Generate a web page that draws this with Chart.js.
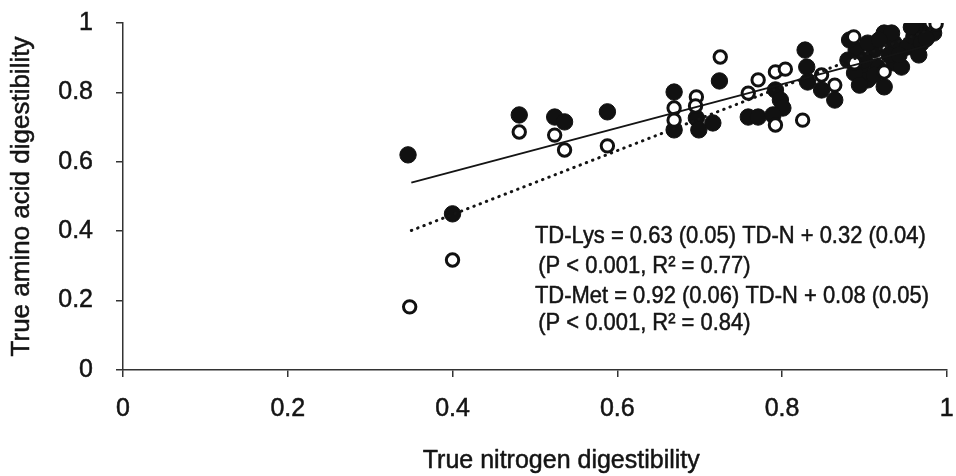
<!DOCTYPE html>
<html><head><meta charset="utf-8">
<script src="https://cdn.jsdelivr.net/npm/chart.js@4.4.1/dist/chart.umd.min.js"></script>
<style>html,body{margin:0;padding:0;background:#fff}#wrap{width:956px;height:476px;position:relative}</style>
</head><body><div id="wrap"><canvas id="c"></canvas></div>
<script>
// ---- data ----
const xTitle = 'True nitrogen digestibility';
const yTitle = 'True amino acid digestibility';
const xTickLabels = ['0', '0.2', '0.4', '0.6', '0.8', '1'];
const yTickLabels = ['0', '0.2', '0.4', '0.6', '0.8', '1'];

// True Lys digestibility (filled circles)
const lysX = [0.346, 0.400, 0.481, 0.524, 0.536, 0.588, 0.669, 0.669, 0.696, 0.699, 0.716, 0.724,
  0.759, 0.771, 0.792, 0.798, 0.801, 0.789, 0.828, 0.830, 0.831, 0.848, 0.864, 0.890, 0.896,
  0.904, 0.924, 0.924, 0.936, 0.912, 0.936, 0.945, 0.952, 0.960, 0.972, 0.981, 0.969, 0.904,
  0.888, 0.916, 0.933, 0.957, 0.984, 0.880, 0.930, 0.966, 0.912, 0.900, 0.918, 0.942, 0.894,
  0.882, 0.975];
const lysY = [0.620, 0.450, 0.735, 0.729, 0.715, 0.744, 0.801, 0.692, 0.726, 0.692, 0.712, 0.833,
  0.729, 0.729, 0.807, 0.778, 0.755, 0.735, 0.922, 0.873, 0.830, 0.807, 0.778, 0.922, 0.873,
  0.836, 0.816, 0.971, 0.942, 0.922, 0.885, 0.873, 0.931, 0.960, 0.980, 0.988, 0.942, 0.942,
  0.856, 0.873, 0.971, 0.988, 0.971, 0.893, 0.908, 0.908, 0.850, 0.893, 0.951, 0.908, 0.821,
  0.951, 0.955];

// True Met digestibility (open circles)
const metX = [0.348, 0.400, 0.481, 0.524, 0.536, 0.588, 0.669, 0.669, 0.696, 0.695, 0.725, 0.759,
  0.771, 0.792, 0.804, 0.792, 0.825, 0.848, 0.864, 0.887, 0.888, 0.924, 0.981, 0.987];
const metY = [0.182, 0.317, 0.686, 0.677, 0.634, 0.646, 0.755, 0.720, 0.787, 0.761, 0.902, 0.798,
  0.836, 0.859, 0.867, 0.706, 0.720, 0.850, 0.821, 0.960, 0.885, 0.859, 1.000, 0.997];

// regression lines (end points)
const lysLineX = [0.35, 0.98];
const lysLineY = [0.540, 0.937];
const metLineX = [0.35, 0.98];
const metLineY = [0.402, 0.982];

const equationLines = [
  'TD-Lys = 0.63 (0.05) TD-N + 0.32 (0.04)',
  '(P < 0.001, R\u00B2 = 0.77)',
  'TD-Met = 0.92 (0.06) TD-N + 0.08 (0.05)',
  '(P < 0.001, R\u00B2 = 0.84)'
];

// ---- chart ----
const FONT = '"Liberation Sans", Arial, Helvetica, sans-serif';
const INK = '#141414';
const toPts = (xs, ys) => xs.map((x, i) => ({ x: x, y: ys[i] }));

function inkText(ctx, t, x, y) {
  ctx.fillText(t, x, y);
  ctx.strokeText(t, x, y);
}

const textPlugin = {
  id: 'texts',
  afterDraw(chart) {
    const { ctx, scales, chartArea } = chart;
    ctx.save();
    ctx.fillStyle = INK;
    ctx.strokeStyle = INK;
    ctx.lineWidth = 0.5;
    ctx.lineJoin = 'round';

    // regression equations
    const anchorX = [0.5, 0.504, 0.5, 0.504];
    const anchorY = [0.366, 0.280, 0.193, 0.115];
    ctx.font = '24px ' + FONT;
    ctx.textBaseline = 'alphabetic';
    ctx.textAlign = 'left';
    equationLines.forEach((t, i) => {
      const px = scales.x.getPixelForValue(anchorX[i]);
      const py = scales.y.getPixelForValue(anchorY[i]);
      ctx.save();
      ctx.translate(px, py);
      ctx.scale(0.915, 1);
      inkText(ctx, t, 0, 0);
      ctx.restore();
    });

    // axis titles
    ctx.font = '25px ' + FONT;
    ctx.textAlign = 'center';
    ctx.textBaseline = 'middle';
    inkText(ctx, xTitle, scales.x.getPixelForValue(0.532), chart.height - 15);

    ctx.font = '26px ' + FONT;
    ctx.save();
    ctx.translate(22, (chartArea.top + chartArea.bottom) / 2);
    ctx.rotate(-Math.PI / 2);
    inkText(ctx, yTitle, 0, 0);
    ctx.restore();

    ctx.restore();
  }
};

const axisCommon = {
  type: 'linear', min: 0, max: 1,
  grid: { display: true, drawOnChartArea: false, drawTicks: true, tickLength: 7, color: '#333', lineWidth: 1.5 },
  border: { display: true, color: '#333', width: 1.5 },
  title: { display: false }
};

new Chart(document.getElementById('c'), {
  type: 'scatter',
  data: {
    datasets: [
      { label: 'Lys fit', data: toPts(lysLineX, lysLineY), showLine: true, borderColor: INK, borderWidth: 2,
        pointRadius: 0, order: 0 },
      { label: 'Met fit', data: toPts(metLineX, metLineY), showLine: true, borderColor: INK, borderWidth: 3,
        borderDash: [0.5, 6.2], borderCapStyle: 'round', pointRadius: 0, order: 0 },
      { label: 'TD-Met', data: toPts(metX, metY), pointRadius: 6.2, pointBorderWidth: 3,
        pointBackgroundColor: '#fff', pointBorderColor: '#111', order: 1 },
      { label: 'TD-Lys', data: toPts(lysX, lysY), pointRadius: 8.2, pointBorderWidth: 1,
        pointBackgroundColor: '#111', pointBorderColor: '#111', order: 2 }
    ]
  },
  options: {
    responsive: true, maintainAspectRatio: false, animation: false,
    layout: { padding: { top: 23, right: 3, left: 0, bottom: 0 } },
    plugins: { legend: { display: false }, tooltip: { enabled: false } },
    scales: {
      x: Object.assign({}, axisCommon, {
        ticks: { stepSize: 0.2, autoSkip: false, maxRotation: 0, padding: 17, color: INK,
          textStrokeColor: INK, textStrokeWidth: 0.5,
          font: { family: FONT, size: 25 }, callback: (v, i) => xTickLabels[i] },
        afterFit: s => { s.height = 106; s.paddingLeft = 0; s.paddingRight = 0; }
      }),
      y: Object.assign({}, axisCommon, {
        ticks: { stepSize: 0.2, autoSkip: false, padding: 23, color: INK,
          textStrokeColor: INK, textStrokeWidth: 0.5,
          font: { family: FONT, size: 25 }, callback: (v, i) => yTickLabels[i] },
        afterFit: s => { s.width = 123; s.paddingTop = 0; s.paddingBottom = 0; }
      })
    }
  },
  plugins: [textPlugin]
});
</script>
</body></html>
